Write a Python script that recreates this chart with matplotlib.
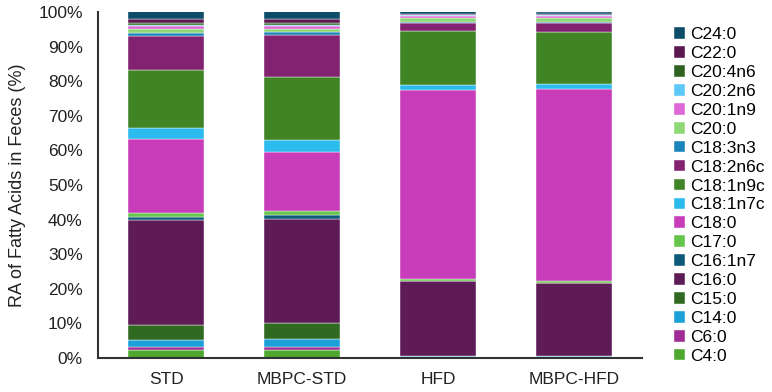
import matplotlib
matplotlib.use('Agg')
import matplotlib.pyplot as plt
import numpy as np

plt.rcParams['font.family'] = ['Liberation Sans', 'DejaVu Sans']

groups = ['STD', 'MBPC-STD', 'HFD', 'MBPC-HFD']
acids = ['C4:0', 'C6:0', 'C14:0', 'C15:0', 'C16:0', 'C16:1n7', 'C17:0', 'C18:0',
         'C18:1n7c', 'C18:1n9c', 'C18:2n6c', 'C18:3n3', 'C20:0', 'C20:1n9',
         'C20:2n6', 'C20:4n6', 'C22:0', 'C24:0']

# relative abundance (%) per fatty acid, one value per group
c4_0     = [2.4, 2.4, 0.1, 0.1]
c6_0     = [0.7, 0.8, 0.05, 0.05]
c14_0    = [2.2, 2.3, 0.4, 0.4]
c15_0    = [4.1, 4.6, 0.05, 0.05]
c16_0    = [30.6, 30.0, 21.5, 21.0]
c16_1n7  = [0.75, 1.2, 0.1, 0.1]
c17_0    = [1.3, 1.25, 0.7, 0.6]
c18_0    = [21.2, 17.1, 54.6, 55.6]
c18_1n7c = [3.3, 3.4, 1.5, 1.35]
c18_1n9c = [16.7, 18.3, 15.5, 14.9]
c18_2n6c = [9.9, 12.0, 2.4, 2.7]
c18_3n3  = [0.8, 0.9, 0.2, 0.2]
c20_0    = [1.1, 1.0, 1.2, 1.2]
c20_1n9  = [1.0, 0.8, 0.7, 0.7]
c20_2n6  = [0.2, 0.1, 0.1, 0.1]
c20_4n6  = [0.5, 0.6, 0.2, 0.2]
c22_0    = [1.4, 1.4, 0.3, 0.3]
c24_0    = [2.1, 2.1, 0.6, 0.6]

values = [c4_0, c6_0, c14_0, c15_0, c16_0, c16_1n7, c17_0, c18_0, c18_1n7c,
          c18_1n9c, c18_2n6c, c18_3n3, c20_0, c20_1n9, c20_2n6, c20_4n6, c22_0, c24_0]

colors = ['#4EA72E', '#A02B93', '#1BA1D8', '#306A21', '#5E1B56', '#0E5A7A', '#66C64B',
          '#C83CB9', '#2CBBED', '#408425', '#822270', '#1A84BB', '#8ED873', '#DE66D6',
          '#5BC8F5', '#2F6321', '#5A1850', '#0E4D6A']

fig = plt.figure(figsize=(7.72, 3.92), dpi=100)
ax = fig.add_axes([0.127, 0.087, 0.705, 0.882])

x = np.arange(len(groups))
bottom = np.zeros(len(groups))
bars = []
for name, vals, col in zip(acids, values, colors):
    b = ax.bar(x, vals, width=0.56, bottom=bottom, color=col, label=name,
               edgecolor='white', linewidth=0.3)
    bars.append(b)
    bottom += np.array(vals)

ax.set_xlim(-0.5, 3.5)
ax.set_ylim(0, 100)
ax.set_yticks(np.arange(0, 101, 10))
ax.set_yticklabels([f'{v}%' for v in range(0, 101, 10)])
ax.set_xticks(x)
ax.set_xticklabels(groups)
ax.tick_params(axis='both', length=0, labelsize=12.5, colors='#222222')
ax.tick_params(axis='y', pad=11)
ax.tick_params(axis='x', pad=10)
ax.set_ylabel('RA of Fatty Acids in Feces (%)', fontsize=13, color='#222222', labelpad=9)

for s in ['top', 'right']:
    ax.spines[s].set_visible(False)
for s in ['bottom', 'left']:
    ax.spines[s].set_color('#333333')
    ax.spines[s].set_linewidth(1.5)

handles = bars[::-1]
labels = acids[::-1]
fig.legend(handles, labels, loc='upper left', bbox_to_anchor=(0.864, 0.948),
           frameon=False, fontsize=12.5, handlelength=0.65, handleheight=0.65,
           handletextpad=0.3, labelspacing=0.225, borderaxespad=0)

fig.savefig('out.png', dpi=100)
